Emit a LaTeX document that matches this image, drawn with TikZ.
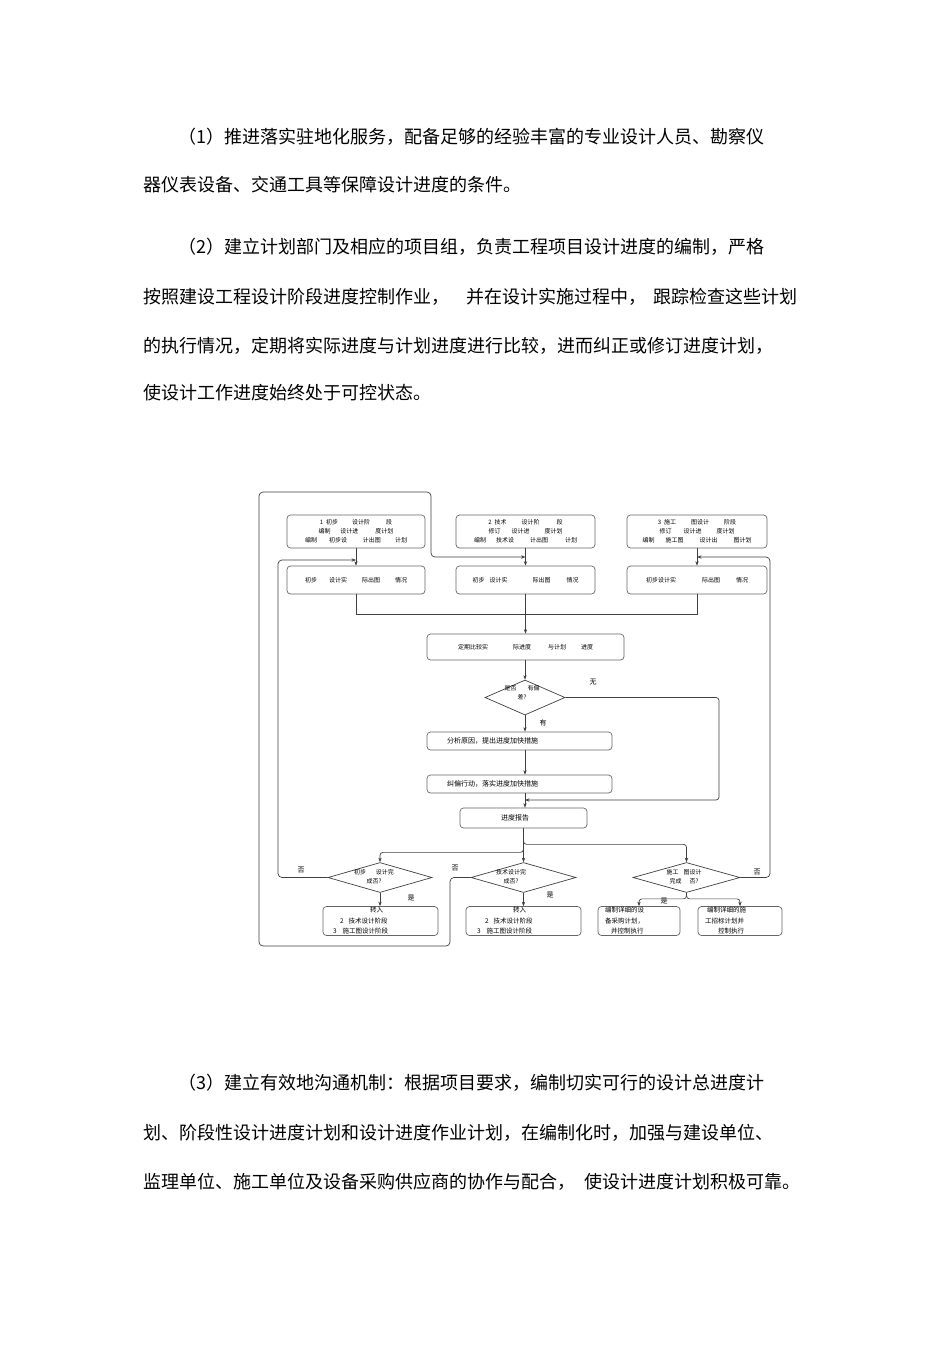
\documentclass[tikz,border=0pt]{standalone}
\usepackage{fontspec}
\setmainfont{Noto Sans CJK SC}
\usetikzlibrary{shapes.geometric,arrows.meta}
\tikzset{
  ln/.style={draw=black!75, line width=0.7pt},
  arr/.style={ln, -{Stealth[length=4.5pt,width=3.4pt]}},
  box/.style={draw=black!60, line width=0.7pt, rounded corners=3.5pt, inner sep=0pt, align=center, font=\fontsize{6}{9}\selectfont},
  lbox/.style={box, align=left, font=\fontsize{7}{9}\selectfont},
  tbox/.style={box, align=left, font=\fontsize{6.5}{10.5}\selectfont},
  dia/.style={diamond, draw=black!75, line width=0.7pt, inner sep=0pt},
  dtxt/.style={inner sep=0pt, align=center, font=\fontsize{6}{9}\selectfont},
  lab/.style={inner sep=0pt, font=\fontsize{7}{8}\selectfont},
  para/.style={anchor=west, inner sep=0pt, font=\fontsize{18}{22}\selectfont},
}
\begin{document}
\begin{tikzpicture}[x=1pt,y=-1pt]
\fill[white] (0,0) rectangle (950,1345);
\useasboundingbox (0,0) rectangle (950,1345);

% ---------- paragraphs ----------
\node[para] (p1) at (178,137) {（1）推进落实驻地化服务，配备足够的经验丰富的专业设计人员、勘察仪};
\node[para] (p2) at (143,185) {器仪表设备、交通工具等保障设计进度的条件。};
\node[para] (p3) at (178,247) {（2）建立计划部门及相应的项目组，负责工程项目设计进度的编制，严格};
\node[para] (p4) at (143,297) {按照建设工程设计阶段进度控制作业，\hspace{17pt}并在设计实施过程中，\hspace{7pt}跟踪检查这些计划};
\node[para] (p5) at (143,346) {的执行情况，定期将实际进度与计划进度进行比较，进而纠正或修订进度计划，};
\node[para] (p6) at (143,393) {使设计工作进度始终处于可控状态。};
\node[para] (p7) at (178,1083) {（3）建立有效地沟通机制：根据项目要求，编制切实可行的设计总进度计};
\node[para] (p8) at (143,1133) {划、阶段性设计进度计划和设计进度作业计划，在编制化时，加强与建设单位、};
\node[para] (p9) at (143,1182) {监理单位、施工单位及设备采购供应商的协作与配合，\hspace{9pt}使设计进度计划积极可靠。};

% ---------- top boxes ----------
\node[box, minimum width=138pt, minimum height=33pt] (b1) at (356,531.5)
  {1\hspace{3pt}初步\hspace{14pt}设计阶\hspace{16pt}段\\编制\hspace{10pt}设计进\hspace{17pt}度计划\\编制\hspace{12pt}初步设\hspace{16pt}计出图\hspace{14pt}计划};
\node[box, minimum width=139pt, minimum height=33pt] (b2) at (525.5,531.5)
  {2\hspace{3pt}技术\hspace{15pt}设计阶\hspace{17pt}段\\修订\hspace{11pt}设计进\hspace{15pt}度计划\\编制\hspace{10pt}技术设\hspace{16pt}计出图\hspace{17pt}计划};
\node[box, minimum width=140pt, minimum height=33pt] (b3) at (697,531.5)
  {3\hspace{3pt}施工\hspace{15pt}图设计\hspace{15pt}阶段\\修订\hspace{12pt}设计进\hspace{15pt}度计划\\编制\hspace{11pt}施工图\hspace{16pt}设计出\hspace{16pt}图计划};

\node[box, minimum width=138pt, minimum height=28pt] (s1) at (356,580)
  {初步\hspace{12pt}设计实\hspace{15pt}际出图\hspace{15pt}情况};
\node[box, minimum width=139pt, minimum height=28pt] (s2) at (525.5,580)
  {初步\hspace{5pt}设计实\hspace{25pt}际出图\hspace{16pt}情况};
\node[box, minimum width=140pt, minimum height=28pt] (s3) at (697,580)
  {初步设计实\hspace{26pt}际出图\hspace{16pt}情况};

\node[box, minimum width=197pt, minimum height=26pt] (cmp) at (525.5,647)
  {定期比较实\hspace{25pt}际进度\hspace{17pt}与计划\hspace{15pt}进度};

\node[dia, minimum width=80pt, minimum height=35pt] (d0) at (525,697.5) {};
\node[dtxt] (d0t) at (522,693) {是否\hspace{11pt}有偏\\差?};

\node[lbox, inner xsep=20pt, text width=145pt, minimum height=18pt] (ana) at (519.5,741)
  {分析原因，提出进度加快措施};
\node[lbox, inner xsep=20pt, text width=145pt, minimum height=18pt] (cor) at (519.5,784)
  {纠偏行动，落实进度加快措施};
\node[lbox, inner xsep=41pt, text width=45pt, minimum height=20pt] (rep) at (523.5,818)
  {进度报告};

% ---------- decisions ----------
\node[dia, minimum width=104pt, minimum height=30pt] (d1) at (380,877.5) {};
\node[dia, minimum width=105pt, minimum height=30pt] (d2) at (523.5,877.5) {};
\node[dia, minimum width=107pt, minimum height=30pt] (d3) at (686.5,877.5) {};
\node[dtxt] (d1t) at (374,876.5) {初步\hspace{10pt}设计完\\成否?};
\node[dtxt] (d2t) at (511,876.5) {技术设计完\\成否?};
\node[dtxt] (d3t) at (684,877) {施工\hspace{5pt}图设计\\完成\hspace{8pt}否?};

\node[tbox, inner xsep=10pt, text width=95pt, minimum height=29pt] (t1) at (380.5,921)
  {\hspace*{37pt}转入\\\hspace*{7pt}2\hspace{5pt}技术设计阶段\\3\hspace{6pt}施工图设计阶段};
\node[tbox, inner xsep=11pt, text width=93pt, minimum height=29pt] (t2) at (523.5,921)
  {\hspace*{36pt}转入\\\hspace*{8pt}2\hspace{5pt}技术设计阶段\\3\hspace{6pt}施工图设计阶段};
\node[tbox, inner xsep=7pt, text width=68pt, minimum height=29pt] (t3a) at (639,921)
  {编制详细的设\\备采购计划，\\\hspace*{6pt}并控制执行};
\node[tbox, inner xsep=7pt, text width=70pt, minimum height=29pt] (t3b) at (740,921)
  {\hspace*{2pt}编制详细的施\\工招标计划并\\\hspace*{13pt}控制执行};

% ---------- labels ----------
\node[lab] (lwu) at (593,682) {无};
\node[lab] (lyou) at (543,723) {有};
\node[lab] (lf1) at (301,870) {否};
\node[lab] (lf2) at (455,868) {否};
\node[lab] (lf3) at (757,872) {否};
\node[lab] (ls1) at (411,898) {是};
\node[lab] (ls2) at (550,895) {是};
\node[lab] (ls3) at (664,901) {是};

% ---------- junction coordinates ----------
\coordinate (j1) at (356,560);
\coordinate (j2) at (525.5,557);
\coordinate (j3) at (697,557);
\coordinate (j0) at (525,800);

% ---------- connectors ----------
\draw[arr] (b1.south) -- (s1.north);
\draw[arr] (b2.south) -- (s2.north);
\draw[arr] (b3.south) -- (s3.north);
\draw[ln] (s1.south) -- ++(0,20) -| (s3.south);
\draw[arr] (s2.south) -- (cmp.north);
\draw[arr] (cmp.south -| d0) -- (d0.north);
\draw[arr] (d0.south) -- (ana.north -| d0);
\draw[arr] (ana.south -| d0) -- (cor.north -| d0);
\draw[arr] (cor.south -| d0) -- (rep.north -| d0);
\draw[arr, rounded corners=3pt] (d0.east) -- (719,697.5) -- (719,800) -- (j0);

\draw[arr, rounded corners=3pt] (rep.south) -- ++(0,16) -| (d3.north);
\draw[arr, rounded corners=3pt] (rep.south) -- ++(0,24) -| (d1.north);
\draw[arr] (rep.south) -- (d2.north);

\draw[arr] (d1.south) -- (t1.north -| d1);
\draw[arr] (d2.south) -- (t2.north -| d2);
\draw[arr, rounded corners=3pt] (d3.south) -- ++(0,6) -| (t3a.north);
\draw[arr, rounded corners=3pt] (d3.south) -- ++(0,6) -| (t3b.north);

\draw[arr, rounded corners=4pt] (d1.west) -- (278,877.5) -- (278,560) -- (j1);
\draw[arr, rounded corners=4pt] (d2.west) -- (450,877.5) -- (450,946) -- (259,946) -- (259,492) -- (431,492) -- (431,557) -- (j2);
\draw[arr, rounded corners=4pt] (d3.east) -- (770,877.5) -- (770,557) -- (j3);
\end{tikzpicture}
\end{document}
